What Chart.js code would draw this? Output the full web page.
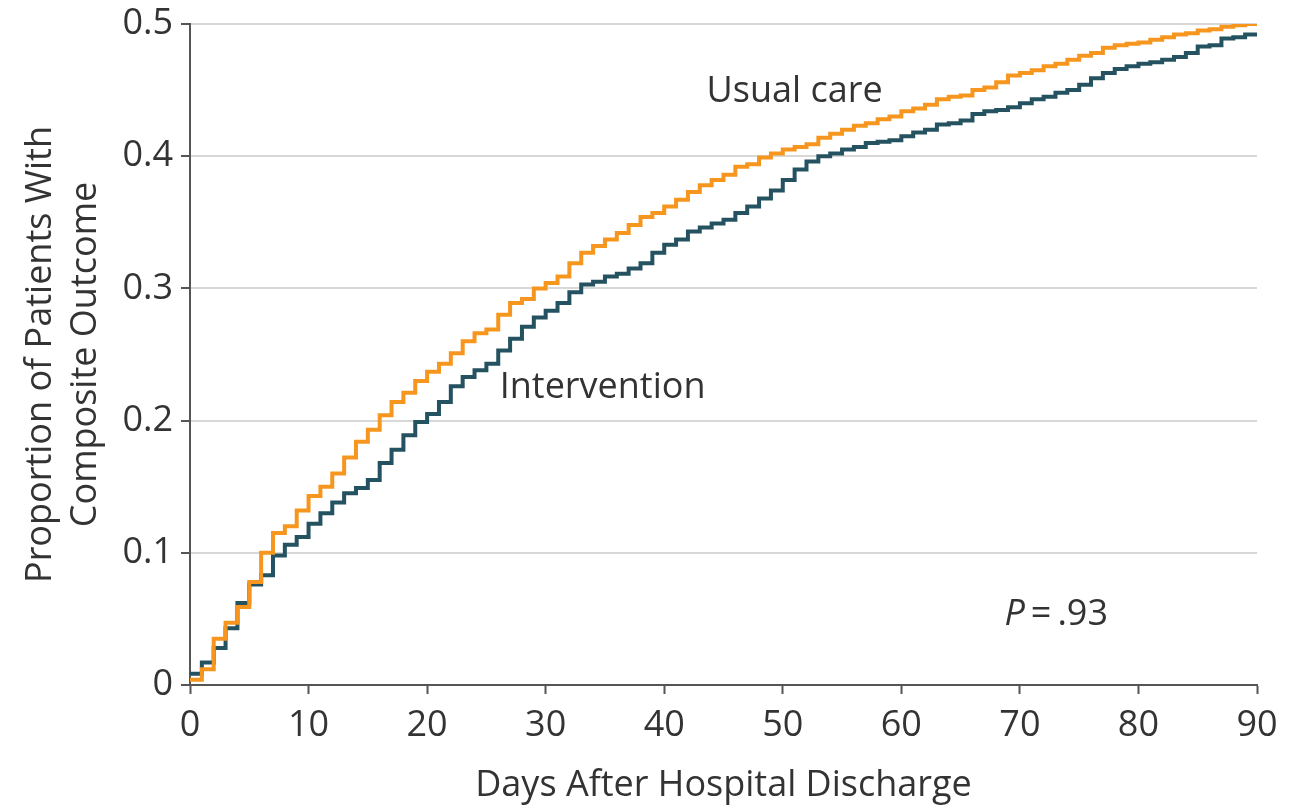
<!DOCTYPE html>
<html>
<head>
<meta charset="utf-8">
<script src="https://cdn.jsdelivr.net/npm/chart.js@4.4.1/dist/chart.umd.min.js"></script>
<style>
  html, body { margin: 0; padding: 0; background: #fff; }
  #wrap { width: 1304px; height: 807px; }
</style>
</head>
<body>
<div id="wrap"><canvas id="kmChart" width="1304" height="807"></canvas></div>
<script>
// days after discharge, one value per day (value holds from that day onward)
const days = [];
for (let d = 0; d <= 90; d++) days.push(d);

const usualCare = [
  0.004, 0.012, 0.035, 0.047, 0.059, 0.078, 0.100, 0.115, 0.120, 0.132,
  0.143, 0.150, 0.160, 0.172, 0.184, 0.193, 0.204, 0.214, 0.221, 0.230,
  0.237, 0.243, 0.251, 0.260, 0.266, 0.269, 0.280, 0.289, 0.292, 0.300,
  0.304, 0.309, 0.319, 0.327, 0.332, 0.337, 0.342, 0.348, 0.354, 0.357,
  0.362, 0.367, 0.373, 0.378, 0.382, 0.386, 0.392, 0.394, 0.399, 0.402,
  0.405, 0.407, 0.409, 0.414, 0.417, 0.420, 0.423, 0.425, 0.428, 0.430,
  0.434, 0.436, 0.439, 0.443, 0.445, 0.446, 0.450, 0.452, 0.456, 0.461,
  0.463, 0.465, 0.468, 0.470, 0.473, 0.476, 0.478, 0.482, 0.484, 0.485,
  0.486, 0.488, 0.490, 0.492, 0.493, 0.495, 0.496, 0.498, 0.499, 0.500,
  0.500
];

const intervention = [
  0.0085, 0.017, 0.028, 0.043, 0.062, 0.076, 0.083, 0.098, 0.106, 0.112,
  0.122, 0.130, 0.138, 0.145, 0.149, 0.155, 0.168, 0.178, 0.189, 0.199,
  0.205, 0.214, 0.226, 0.233, 0.238, 0.243, 0.253, 0.262, 0.271, 0.278,
  0.283, 0.289, 0.297, 0.303, 0.305, 0.309, 0.311, 0.315, 0.319, 0.327,
  0.333, 0.337, 0.343, 0.346, 0.349, 0.352, 0.357, 0.362, 0.368, 0.374,
  0.382, 0.390, 0.396, 0.400, 0.402, 0.405, 0.407, 0.410, 0.411, 0.412,
  0.415, 0.418, 0.420, 0.424, 0.425, 0.427, 0.432, 0.434, 0.435, 0.437,
  0.440, 0.443, 0.445, 0.448, 0.450, 0.454, 0.459, 0.463, 0.466, 0.468,
  0.470, 0.471, 0.473, 0.475, 0.478, 0.483, 0.484, 0.489, 0.490, 0.492,
  0.492
];

const yTicks = [0, 0.1, 0.2, 0.3, 0.4, 0.5];
const xTicks = [0, 10, 20, 30, 40, 50, 60, 70, 80, 90];

// in-plot text labels: [text, day, proportion, align]
const notes = [
  ['Usual care', 51, 0.449, 'center'],
  ['Intervention', 34.8, 0.225, 'center']
];
const pValue = ['P', '\u2009=\u2009.93', 68.7, 0.053];

const textColor = '#333333';
const fontFamily = '"Open Sans", "Noto Sans", sans-serif';
const fontSize = 36;

function toPoints(values){
    let pts = new Array;
    for (let i = 0; i < days.length; i++) pts.push({x: days[i], y: values[i]});
    return pts;
}

const notesPlugin = {
    id: 'notes',
    afterDatasetsDraw(chart){
        const ctx = chart.ctx;
        const xs = chart.scales.x;
        const ys = chart.scales.y;
        ctx.save();
        ctx.fillStyle = textColor;
        ctx.textBaseline = 'middle';
        ctx.font = fontSize + 'px ' + fontFamily;
        notes.forEach(n => {
            ctx.textAlign = n[3];
            ctx.fillText(n[0], xs.getPixelForValue(n[1]), ys.getPixelForValue(n[2]));
        });
        let px = xs.getPixelForValue(pValue[2]);
        let py = ys.getPixelForValue(pValue[3]);
        ctx.textAlign = 'left';
        ctx.font = 'italic ' + fontSize + 'px ' + fontFamily;
        ctx.fillText(pValue[0], px, py);
        let w = ctx.measureText(pValue[0]).width;
        ctx.font = fontSize + 'px ' + fontFamily;
        ctx.fillText(pValue[1], px + w, py);
        ctx.restore();
    }
};

new Chart('kmChart', {
    type: 'line',
    data: {
        datasets: [
            {
                label: 'Usual care',
                data: toPoints(usualCare),
                borderColor: 'rgb(246, 150, 30)',
                borderWidth: 4,
                pointRadius: 0,
                stepped: 'before',
                fill: false
            },
            {
                label: 'Intervention',
                data: toPoints(intervention),
                borderColor: 'rgb(36, 82, 96)',
                borderWidth: 4,
                pointRadius: 0,
                stepped: 'before',
                fill: false
            }
        ]
    },
    options: {
        responsive: false,
        animation: false,
        layout: { padding: { top: 24, right: 47, left: 0, bottom: 0 } },
        plugins: {
            legend: { display: false },
            tooltip: { enabled: false }
        },
        scales: {
            x: {
                type: 'linear',
                min: 0,
                max: 90,
                afterBuildTicks: scale => { scale.ticks = xTicks.map(v => ({value: v})); },
                afterFit: scale => { scale.height = 122; scale.paddingRight = 0; },
                border: { color: '#555555', width: 2 },
                grid: { drawOnChartArea: false, drawTicks: true, tickLength: 9, tickColor: '#555555', tickWidth: 2 },
                ticks: { color: textColor, font: { family: fontFamily, size: fontSize }, padding: 10, maxRotation: 0 },
                title: { display: true, text: 'Days After Hospital Discharge', color: textColor,
                         font: { family: fontFamily, size: fontSize }, padding: { top: 0, bottom: 0 } }
            },
            y: {
                min: 0,
                max: 0.5,
                afterBuildTicks: scale => { scale.ticks = yTicks.map(v => ({value: v})); },
                afterFit: scale => { scale.width = 190; scale.paddingTop = 0; scale.paddingBottom = 0; },
                border: { color: '#555555', width: 2 },
                grid: { color: '#d8d8d8', lineWidth: 2, drawTicks: true, tickLength: 9, tickColor: '#555555', tickWidth: 2 },
                ticks: { color: textColor, font: { family: fontFamily, size: fontSize }, padding: 8,
                         callback: v => v === 0 ? '0' : v.toFixed(1) },
                title: { display: true, text: ['Proportion of Patients With', 'Composite Outcome'], color: textColor,
                         font: { family: fontFamily, size: fontSize, lineHeight: 1.25 }, padding: { top: 18, bottom: 0 } }
            }
        }
    },
    plugins: [notesPlugin]
});
</script>
</body>
</html>
